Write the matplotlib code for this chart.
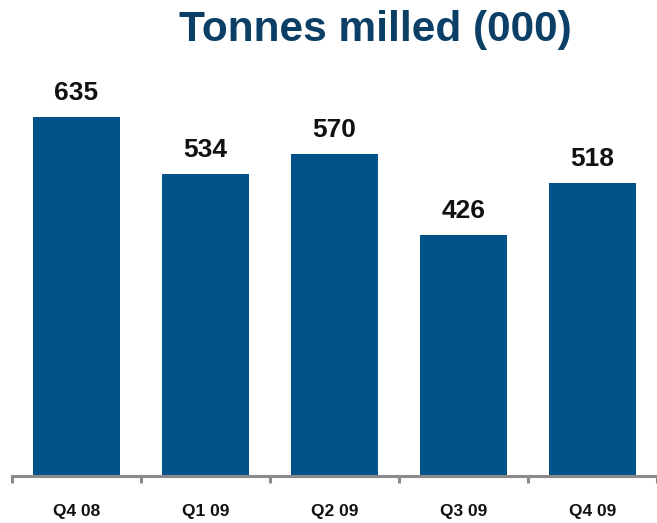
import matplotlib
matplotlib.use("Agg")
import matplotlib.pyplot as plt
import numpy as np

quarters = ["Q4 08", "Q1 09", "Q2 09", "Q3 09", "Q4 09"]
tonnes = [635, 534, 570, 426, 518]

bar_color = "#03538b"
title_color = "#0b3f66"
axis_color = "#8a8a8a"

plt.rcParams["font.family"] = ["Liberation Sans", "DejaVu Sans"]

fig = plt.figure(figsize=(6.57, 5.23), dpi=100)
ax = fig.add_axes([12 / 657, 47 / 523, 645 / 657, 406 / 523])

x = np.arange(len(quarters))
ax.bar(x, tonnes, width=0.675, color=bar_color, zorder=2)

for xi, v in zip(x, tonnes):
    ax.annotate(str(v), (xi, v), xytext=(0, 12), textcoords="offset points",
                ha="center", va="baseline", fontsize=19, fontweight="bold",
                color="#111111")

ax.set_xlim(-0.5, 4.45)
ax.set_ylim(0, 718)

# category labels at the centres, tick marks at the boundaries
ax.set_xticks(x)
ax.set_xticklabels(quarters, fontsize=12.5, fontweight="bold", color="#111111")
ax.tick_params(axis="x", which="major", length=0, pad=20)
ax.set_xticks(np.arange(-0.5, 5.0, 1.0), minor=True)
ax.tick_params(axis="x", which="minor", length=5, width=2.2, color=axis_color)

ax.set_yticks([])
for side in ["top", "right", "left"]:
    ax.spines[side].set_visible(False)
ax.spines["bottom"].set_color(axis_color)
ax.spines["bottom"].set_linewidth(2.2)

fig.text(0.572, 0.943, "Tonnes milled (000)", ha="center", va="center",
         fontsize=30.5, fontweight="bold", color=title_color)

fig.savefig("out.png", dpi=100)
